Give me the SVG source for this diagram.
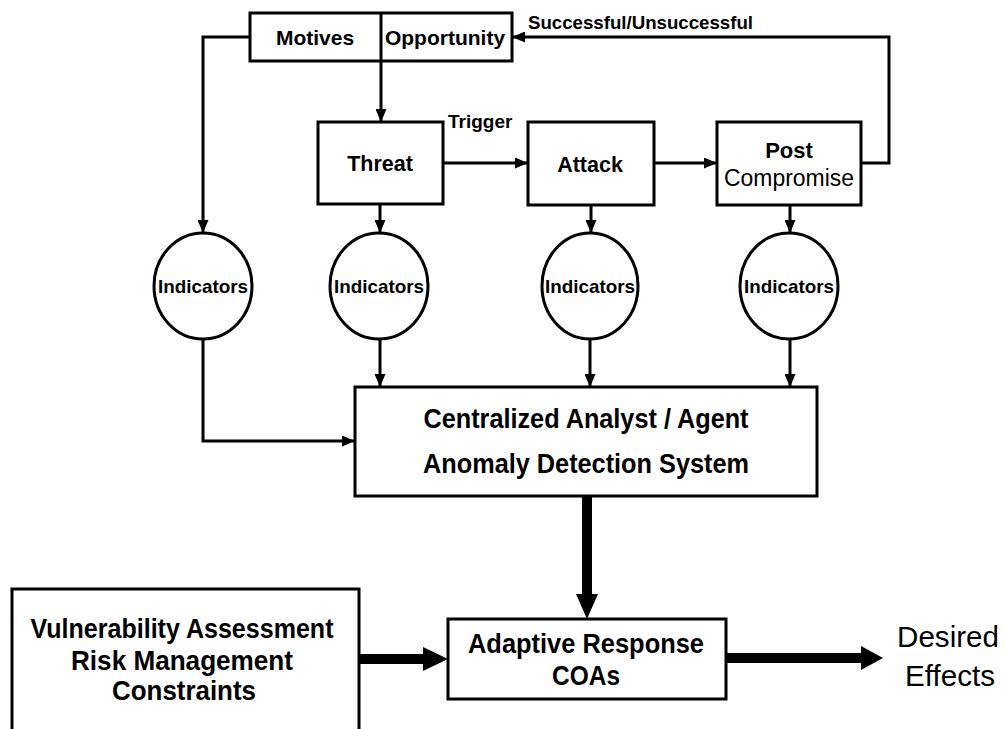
<svg xmlns="http://www.w3.org/2000/svg" width="1005" height="729" viewBox="0 0 1005 729">
<style>
.box{fill:#fff;stroke:#000;stroke-width:3}
.ln{fill:none;stroke:#000;stroke-width:3}
.thick{fill:none;stroke:#000;stroke-width:10}
.head{fill:#000;stroke:none}
.t{font-family:"Liberation Sans",Arial,sans-serif;font-weight:bold;fill:#000}
.r{font-family:"Liberation Sans",Arial,sans-serif;font-weight:normal;fill:#000}
.c{text-anchor:middle}
</style>
<defs>
<marker id="a" markerUnits="userSpaceOnUse" markerWidth="13" markerHeight="11" refX="13" refY="5.5" orient="auto">
<path d="M0,0 L13,5.5 L0,11 z" fill="#000"/>
</marker>
</defs>
<rect width="1005" height="729" fill="#fff"/>

<g id="connectors">
<path class="ln" d="M250,37 H203 V233" marker-end="url(#a)"/>
<path class="ln" d="M381,61 V122" marker-end="url(#a)"/>
<path class="ln" d="M443,163 H528" marker-end="url(#a)"/>
<path class="ln" d="M654,163 H717" marker-end="url(#a)"/>
<path class="ln" d="M861,163 H889 V37 H512" marker-end="url(#a)"/>
<path class="ln" d="M380,204 V233" marker-end="url(#a)"/>
<path class="ln" d="M591,205 V233" marker-end="url(#a)"/>
<path class="ln" d="M790,205 V233" marker-end="url(#a)"/>
<path class="ln" d="M380,339 V387" marker-end="url(#a)"/>
<path class="ln" d="M590,339 V387" marker-end="url(#a)"/>
<path class="ln" d="M790,339 V387" marker-end="url(#a)"/>
<path class="ln" d="M203,339 V441 H355" marker-end="url(#a)"/>
<path class="thick" d="M587,496 V596"/>
<polygon class="head" points="576,594 598,594 587,619"/>
<path class="thick" d="M359,659 H425"/>
<polygon class="head" points="423,647 423,671 448,659"/>
<path class="thick" d="M726,658 H863"/>
<polygon class="head" points="861,646 861,670 883,658"/>
<text class="t" x="528" y="29" font-size="18.5" textLength="225" lengthAdjust="spacingAndGlyphs">Successful/Unsuccessful</text>
<text class="t" x="448" y="128" font-size="19">Trigger</text>
</g>

<g id="motives-opportunity">
<rect class="box" x="250" y="13" width="262" height="48"/>
<line class="ln" x1="381" y1="13" x2="381" y2="61"/>
<text class="t c" x="315" y="45" font-size="21">Motives</text>
<text class="t c" x="445" y="45" font-size="21">Opportunity</text>
</g>

<g id="threat">
<rect class="box" x="318" y="122" width="125" height="82"/>
<text class="t c" x="380" y="171" font-size="21.5">Threat</text>
</g>

<g id="attack">
<rect class="box" x="528" y="122" width="126" height="83"/>
<text class="t c" x="590" y="172" font-size="21.5">Attack</text>
</g>

<g id="post-compromise">
<rect class="box" x="717" y="122" width="144" height="83"/>
<text class="t c" x="789" y="158" font-size="22">Post</text>
<text class="r c" x="789" y="186" font-size="23" textLength="130" lengthAdjust="spacingAndGlyphs">Compromise</text>
</g>

<g id="indicators-1">
<ellipse class="box" cx="203" cy="286" rx="49" ry="53"/>
<text class="t c" x="203" y="293" font-size="19" textLength="90" lengthAdjust="spacingAndGlyphs">Indicators</text>
</g>
<g id="indicators-2">
<ellipse class="box" cx="379" cy="286" rx="49" ry="53"/>
<text class="t c" x="379" y="293" font-size="19" textLength="90" lengthAdjust="spacingAndGlyphs">Indicators</text>
</g>
<g id="indicators-3">
<ellipse class="box" cx="590" cy="286" rx="48" ry="53"/>
<text class="t c" x="590" y="293" font-size="19" textLength="90" lengthAdjust="spacingAndGlyphs">Indicators</text>
</g>
<g id="indicators-4">
<ellipse class="box" cx="789" cy="286" rx="49" ry="53"/>
<text class="t c" x="789" y="293" font-size="19" textLength="90" lengthAdjust="spacingAndGlyphs">Indicators</text>
</g>

<g id="central">
<rect class="box" x="355" y="387" width="462" height="109"/>
<text class="t c" x="586" y="428" font-size="27" textLength="325" lengthAdjust="spacingAndGlyphs">Centralized Analyst / Agent</text>
<text class="t c" x="586" y="473" font-size="27" textLength="326" lengthAdjust="spacingAndGlyphs">Anomaly Detection System</text>
</g>

<g id="adaptive">
<rect class="box" x="448" y="619" width="278" height="80"/>
<text class="t c" x="586" y="653" font-size="27" textLength="236" lengthAdjust="spacingAndGlyphs">Adaptive Response</text>
<text class="t c" x="586" y="685" font-size="27" textLength="68" lengthAdjust="spacingAndGlyphs">COAs</text>
</g>

<g id="vulnerability">
<rect class="box" x="12" y="589" width="347" height="150"/>
<text class="t c" x="182" y="638" font-size="28" textLength="303" lengthAdjust="spacingAndGlyphs">Vulnerability Assessment</text>
<text class="t c" x="182" y="670" font-size="28" textLength="222" lengthAdjust="spacingAndGlyphs">Risk Management</text>
<text class="t c" x="184" y="700" font-size="28" textLength="144" lengthAdjust="spacingAndGlyphs">Constraints</text>
</g>

<g id="desired-effects">
<text class="r" x="897" y="647" font-size="29" textLength="102" lengthAdjust="spacingAndGlyphs">Desired</text>
<text class="r" x="905" y="686" font-size="29" textLength="90" lengthAdjust="spacingAndGlyphs">Effects</text>
</g>
</svg>
